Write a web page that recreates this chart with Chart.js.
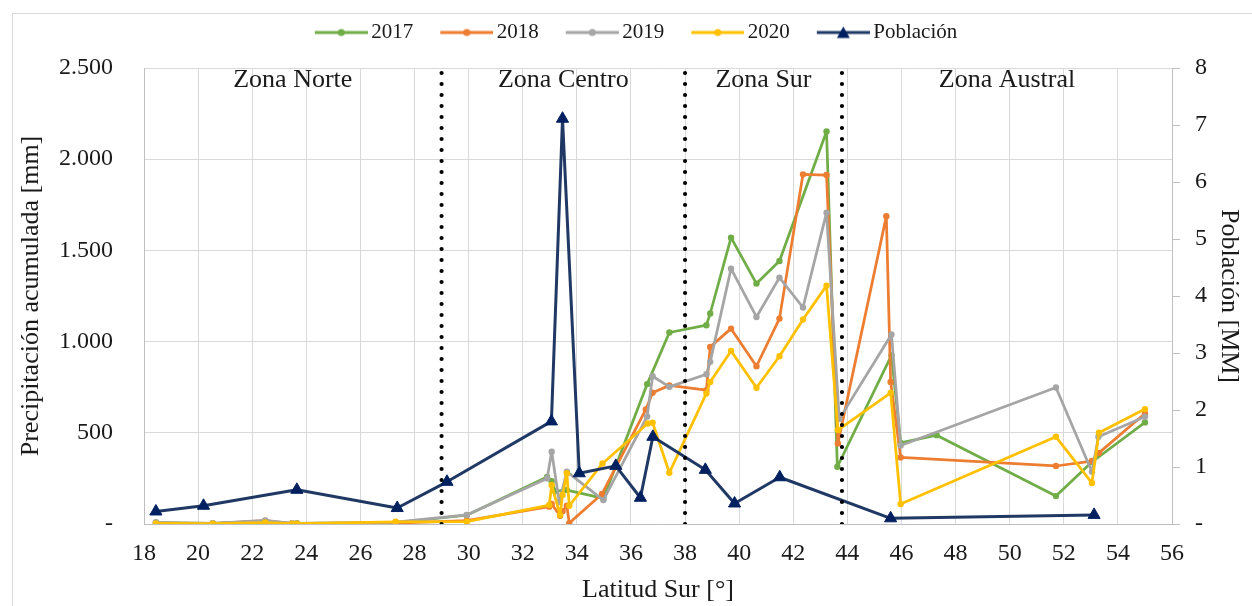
<!DOCTYPE html>
<html lang="es">
<head>
<meta charset="utf-8">
<script src="https://cdn.jsdelivr.net/npm/chart.js@4.4.1/dist/chart.umd.min.js"></script>
<style>
html, body { margin: 0; padding: 0; background: #fff; }
#wrap { position: relative; width: 1252px; height: 606px; overflow: hidden; }
#frame { position: absolute; left: 12px; top: 13px; width: 1260px; height: 620px; border: 1px solid #d9d9d9; }
#grafico { position: absolute; left: 0; top: 0; }
</style>
</head>
<body>
<div id="wrap">
  <div id="frame"></div>
  <canvas id="grafico" width="1252" height="606"></canvas>
</div>
<script>
// Precipitación acumulada [mm] por estación (latitud sur)
const lat2017 = [18.44, 20.54, 22.48, 23.47, 23.65, 27.3, 29.93, 32.9, 33.07, 33.2, 33.63, 34.98, 36.6, 37.42, 38.79, 38.93, 39.7, 40.64, 41.49, 43.23, 43.63, 45.63, 45.97, 47.3, 51.71, 53.04, 55.0];
const pp2017 = [8, 4, 14, 3, 3, 8, 48, 258, 235, 180, 186, 140, 767, 1050, 1090, 1154, 1570, 1318, 1442, 2152, 314, 925, 445, 487, 153, 340, 557];

const lat2018 = [18.44, 20.54, 22.48, 23.47, 23.65, 27.3, 29.93, 32.98, 33.07, 33.38, 33.47, 33.63, 33.72, 34.93, 36.55, 36.8, 37.42, 38.79, 38.93, 39.7, 40.64, 41.49, 42.36, 43.23, 43.65, 45.44, 45.6, 45.97, 51.71, 53.04, 53.3, 55.0];
const pp2018 = [5, 2, 18, 2, 2, 5, 18, 95, 110, 45, 70, 100, 5, 165, 628, 720, 760, 734, 971, 1071, 865, 1126, 1917, 1913, 442, 1687, 779, 365, 318, 345, 390, 606];

const lat2019 = [18.44, 20.54, 22.48, 23.47, 23.65, 27.3, 29.93, 32.9, 33.07, 33.35, 33.63, 34.98, 36.6, 36.8, 37.42, 38.79, 38.93, 39.7, 40.64, 41.49, 42.36, 43.23, 43.7, 45.63, 45.97, 51.71, 53.04, 53.28, 55.0];
const pp2019 = [8, 4, 20, 4, 4, 10, 50, 250, 396, 120, 287, 131, 590, 810, 752, 821, 889, 1400, 1135, 1351, 1187, 1707, 575, 1039, 430, 748, 286, 478, 588];

const lat2020 = [18.44, 20.54, 22.48, 23.47, 23.65, 27.3, 29.93, 32.98, 33.07, 33.38, 33.47, 33.63, 33.72, 34.95, 36.62, 36.8, 37.42, 38.79, 38.93, 39.7, 40.64, 41.49, 42.36, 43.23, 43.65, 45.6, 45.97, 51.71, 53.04, 53.3, 55.0];
const pp2020 = [3, 2, 8, 2, 2, 12, 13, 104, 214, 49, 159, 278, 100, 332, 551, 555, 281, 716, 779, 949, 747, 920, 1121, 1307, 515, 719, 110, 478, 225, 500, 630];

// Población [MM] por región
const latPob = [18.44, 20.2, 23.65, 27.36, 29.2, 33.06, 33.47, 34.09, 35.44, 36.35, 36.81, 38.75, 39.83, 41.5, 45.6, 53.12];
const pob = [0.22, 0.32, 0.6, 0.28, 0.74, 1.8, 7.11, 0.89, 1.02, 0.46, 1.53, 0.95, 0.36, 0.82, 0.1, 0.16];

// Zonas
const zoneNames = ['Zona Norte', 'Zona Centro', 'Zona Sur', 'Zona Austral'];
const zoneLimits = [18, 29, 38, 43.8, 56];

const serif = '"Liberation Serif", "Times New Roman", serif';
const textColor = '#1a1a1a';

function toPoints(xs, ys) {
    return xs.map((x, i) => ({ x: x, y: ys[i] }));
}

// icono de leyenda: linea + marcador, como en Excel
function legendIcon(color, markerColor, triangle) {
    const c = document.createElement('canvas');
    c.width = 72; c.height = 14;
    const g = c.getContext('2d');
    g.strokeStyle = color;
    g.lineWidth = 3;
    g.beginPath(); g.moveTo(19, 7); g.lineTo(72, 7); g.stroke();
    g.fillStyle = markerColor;
    const cx = 45.5;
    g.beginPath();
    if (triangle) {
        g.moveTo(cx, 1); g.lineTo(cx - 6.5, 12.5); g.lineTo(cx + 6.5, 12.5); g.closePath();
    } else {
        g.arc(cx, 7, 3.5, 0, Math.PI * 2);
    }
    g.fill();
    return c;
}

function precipSet(label, xs, ys, color, order) {
    return {
        label: label,
        data: toPoints(xs, ys),
        borderColor: color,
        backgroundColor: color,
        pointBackgroundColor: color,
        pointBorderColor: color,
        pointRadius: 3.2,
        pointBorderWidth: 0,
        borderWidth: 2.75,
        borderJoinStyle: 'round',
        yAxisID: 'y',
        order: order,
        legendIcon: legendIcon(color, color, false),
    };
}

const datasets = [
    precipSet('2017', lat2017, pp2017, '#70ad47', 5),
    precipSet('2018', lat2018, pp2018, '#ed7d31', 4),
    precipSet('2019', lat2019, pp2019, '#a5a5a5', 3),
    precipSet('2020', lat2020, pp2020, '#ffc000', 2),
    {
        label: 'Población',
        data: toPoints(latPob, pob),
        borderColor: '#203864',
        backgroundColor: '#002060',
        pointBackgroundColor: '#002060',
        pointBorderColor: '#002060',
        pointStyle: 'triangle',
        pointRadius: 7,
        pointBorderWidth: 1,
        borderWidth: 3,
        borderJoinStyle: 'round',
        yAxisID: 'y1',
        order: 1,
        legendIcon: legendIcon('#203864', '#002060', true),
    },
];

// separadores de zona punteados
zoneLimits.slice(1, -1).forEach(lim => {
    datasets.push({
        label: '',
        data: [{ x: lim, y: 0 }, { x: lim, y: 2500 }],
        borderColor: '#000',
        borderWidth: 4.2,
        borderDash: [0, 11],
        borderCapStyle: 'round',
        pointRadius: 0,
        yAxisID: 'y',
        order: 0,
    });
});

const zoneLabels = {
    id: 'zoneLabels',
    beforeDatasetsDraw(chart) {
        const { ctx, chartArea } = chart;
        const x = chart.scales.x;
        ctx.save();
        ctx.font = '26px ' + serif;
        ctx.fillStyle = textColor;
        ctx.textAlign = 'center';
        ctx.textBaseline = 'middle';
        zoneNames.forEach((name, i) => {
            const cx = x.getPixelForValue((zoneLimits[i] + zoneLimits[i + 1]) / 2);
            ctx.fillText(name, cx, chartArea.top + 12);
        });
        ctx.restore();
    }
};

function miles(v) {
    if (v === 0) return '-';
    return String(v).replace(/\B(?=(\d{3})+(?!\d))/g, '.');
}

const chart = new Chart(document.getElementById('grafico'), {
    type: 'line',
    data: { datasets: datasets },
    plugins: [zoneLabels],
    options: {
        responsive: false,
        animation: false,
        devicePixelRatio: 1,
        layout: { padding: { left: 12, right: 4, top: 7, bottom: 0 } },
        elements: { line: { tension: 0 } },
        plugins: {
            tooltip: { enabled: false },
            // espacio vacío entre la leyenda y el gráfico
            subtitle: {
                display: true,
                text: '',
                weight: 500,
                font: { size: 10, lineHeight: 1 },
                padding: { top: 5, bottom: 0 },
            },
            legend: {
                position: 'top',
                labels: {
                    usePointStyle: true,
                    pointStyleWidth: 58,
                    padding: 15,
                    color: textColor,
                    font: { family: serif, size: 21 },
                    generateLabels: c => c.data.datasets
                        .map((ds, i) => ({
                            text: ds.label,
                            pointStyle: ds.legendIcon,
                            fillStyle: 'transparent',
                            strokeStyle: 'transparent',
                            lineWidth: 0,
                            hidden: false,
                            datasetIndex: i,
                            fontColor: textColor,
                        }))
                        .filter(l => c.data.datasets[l.datasetIndex].legendIcon),
                },
            },
        },
        scales: {
            x: {
                type: 'linear',
                min: 18,
                max: 56,
                afterFit: s => { s.height = 82; },
                ticks: { stepSize: 2, autoSkip: false, maxRotation: 0, padding: 15, color: textColor, font: { family: serif, size: 24 } },
                grid: { color: '#d9d9d9', drawTicks: false },
                border: { color: '#bfbfbf' },
                title: { display: true, text: 'Latitud Sur [°]', color: textColor, font: { family: serif, size: 26 }, padding: { top: 0, bottom: 0 } },
            },
            y: {
                position: 'left',
                min: 0,
                max: 2500,
                afterFit: s => { s.width = 132; },
                ticks: { stepSize: 500, padding: 31, color: textColor, font: { family: serif, size: 24 }, callback: v => miles(v) },
                grid: { color: '#d9d9d9', drawTicks: false },
                border: { color: '#bfbfbf' },
                title: { display: true, text: 'Precipitación acumulada [mm]', color: textColor, font: { family: serif, size: 26 }, padding: { top: 4, bottom: 0 } },
            },
            y1: {
                position: 'right',
                min: 0,
                max: 8,
                afterFit: s => { s.width = 76; },
                ticks: { stepSize: 1, padding: 15, color: textColor, font: { family: serif, size: 24 }, callback: v => v === 0 ? '-' : v },
                grid: { drawOnChartArea: false, drawTicks: true, tickLength: 8, tickColor: '#bfbfbf' },
                border: { color: '#bfbfbf' },
                title: { display: true, text: 'Población [MM]', color: textColor, font: { family: serif, size: 26 }, padding: { top: 4, bottom: 0 } },
            },
        },
    },
});
</script>
</body>
</html>
